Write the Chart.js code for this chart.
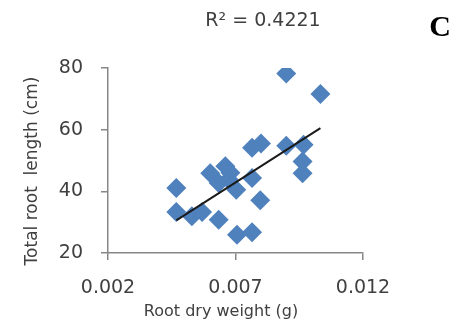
<!DOCTYPE html>
<html>
<head>
<meta charset="utf-8">
<script src="https://cdn.jsdelivr.net/npm/chart.js@4/dist/chart.umd.min.js"></script>
<style>
html,body{margin:0;padding:0;background:#fff;}
#wrap{width:463px;height:328px;position:relative;}
</style>
</head>
<body>
<div id="wrap"><canvas id="c" width="463" height="328"></canvas></div>
<script>
// Data
const rootDryWeight = [0.00468,0.00468,0.00529,0.00569,0.00634,0.00706,0.00765,0.00797,0.00765,0.00703,0.00601,0.00660,0.00634,0.00673,0.00680,0.00765,0.00800,0.00899,0.00967,0.00963,0.00963,0.00899,0.01033];
const rootLength    = [41.1,33.3,31.9,33.3,30.8,25.9,26.7,37.1,44.3,40.5,45.9,48.1,42.7,43.8,46.0,54.1,55.5,54.8,55.1,49.7,45.9,78.2,71.6];
const trendX = [0.00468, 0.01033];
const trendY = [30.6, 60.5];
const xTicks = [0.002, 0.007, 0.012];
const yTicks = [20, 40, 60, 80];
const titleText = "R\u00B2 = 0.4221";
const panelLabel = "C";
const xTitle = "Root dry weight (g)";
const yTitle = "Total root  length (cm)";

const pts = rootDryWeight.map((x,i)=>({x:x,y:rootLength[i]}));
const trend = trendX.map((x,i)=>({x:x,y:trendY[i]}));

const textPlugin = {
  id:'texts',
  afterDraw(chart){
    const ctx = chart.ctx;
    ctx.save();
    ctx.fillStyle = '#404040';
    ctx.textAlign = 'center';
    ctx.textBaseline = 'middle';
    ctx.font = '19px "DejaVu Sans"';
    ctx.fillText(titleText, 263, 21);
    ctx.font = '16px "DejaVu Sans"';
    ctx.fillText(xTitle, 221, 312);
    ctx.save();
    ctx.translate(33, 171);
    ctx.rotate(-Math.PI/2);
    ctx.font = '17px "DejaVu Sans"';
    ctx.fillText(yTitle, 0, 0);
    ctx.restore();
    ctx.fillStyle = '#000';
    ctx.font = 'bold 30px "Liberation Serif"';
    ctx.fillText(panelLabel, 440, 28);
    ctx.restore();
  }
};

new Chart(document.getElementById('c'), {
  type:'scatter',
  data:{
    datasets:[
      {
        data: pts,
        pointStyle:'rectRot',
        pointRadius:10,
        pointHoverRadius:10,
        backgroundColor:'#4F81BD',
        borderColor:'#4F81BD',
        borderWidth:0,
        order:2
      },
      {
        type:'line',
        data: trend,
        showLine:true,
        borderColor:'#1a1a1a',
        borderWidth:2,
        pointRadius:0,
        fill:false,
        order:1
      }
    ]
  },
  options:{
    responsive:false,
    animation:false,
    devicePixelRatio:1,
    layout:{padding:{left:0,top:68,right:100,bottom:0}},
    plugins:{legend:{display:false},tooltip:{enabled:false},title:{display:false}},
    scales:{
      x:{
        type:'linear', min:0.002, max:0.012,
        afterBuildTicks(s){ s.ticks = xTicks.map(v=>({value:v})); },
        afterFit(s){ s.height = 75; },
        ticks:{
          callback:v=>Number(v).toFixed(3),
          font:{family:'"DejaVu Sans"', size:19},
          color:'#404040',
          padding:17,
          maxRotation:0, autoSkip:false
        },
        grid:{drawOnChartArea:false, drawTicks:true, tickLength:7, color:'#878787', lineWidth:1.5},
        border:{display:true, color:'#878787', width:1.5}
      },
      y:{
        type:'linear', min:20, max:80,
        afterBuildTicks(s){ s.ticks = yTicks.map(v=>({value:v})); },
        afterFit(s){ s.width = 108; },
        ticks:{
          font:{family:'"DejaVu Sans"', size:19},
          color:'#404040',
          padding:18
        },
        grid:{drawOnChartArea:false, drawTicks:true, tickLength:7, color:'#878787', lineWidth:1.5},
        border:{display:true, color:'#878787', width:1.5}
      }
    }
  },
  plugins:[textPlugin]
});
</script>
</body>
</html>
